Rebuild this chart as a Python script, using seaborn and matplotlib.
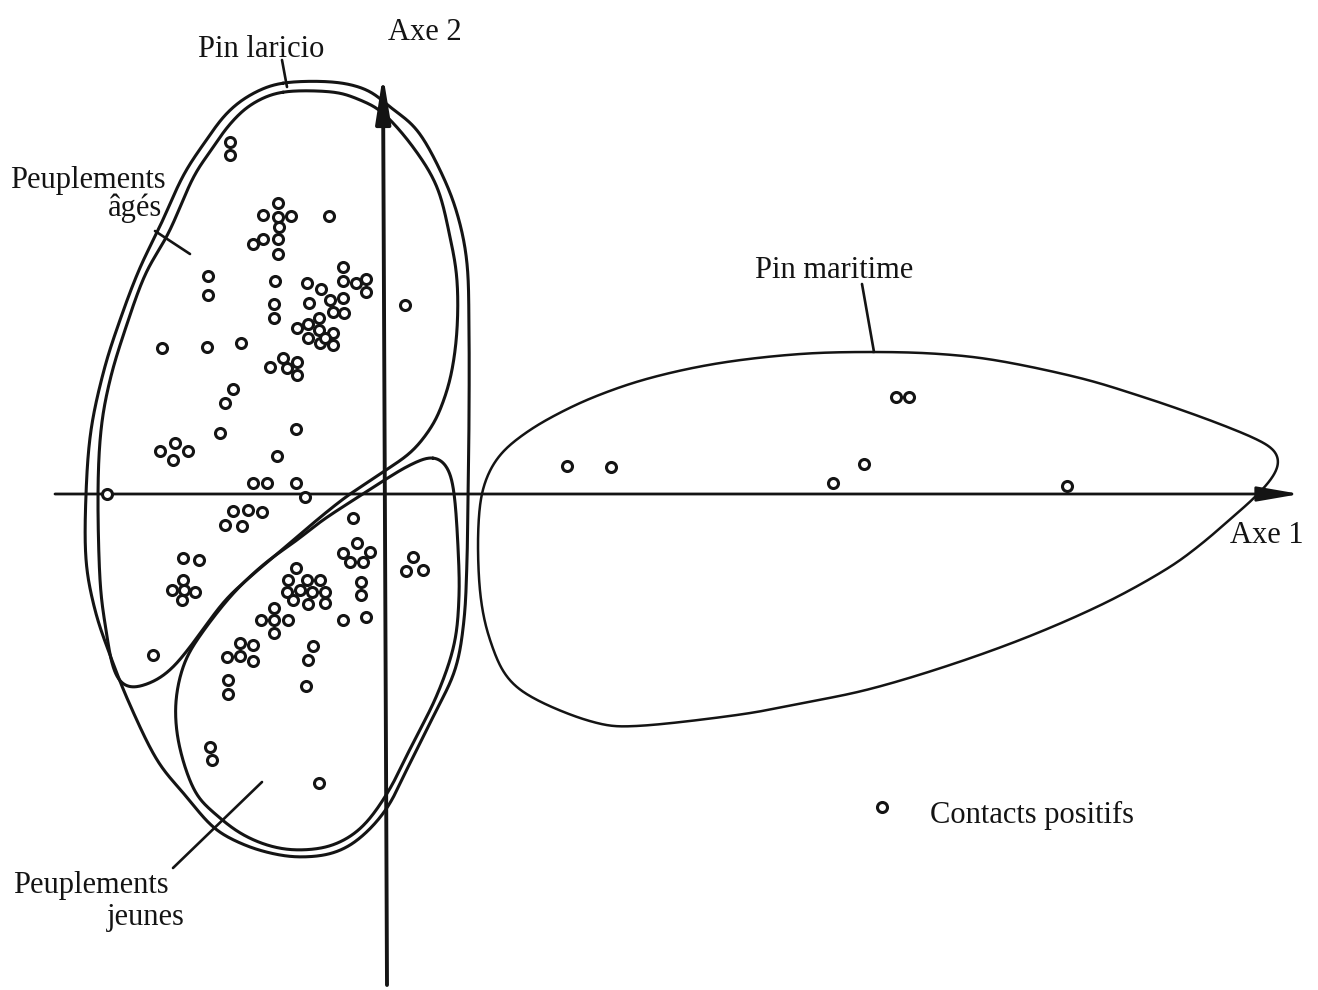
import numpy as np
import pandas as pd
import matplotlib
matplotlib.use("Agg")
import matplotlib.pyplot as plt
import seaborn as sns

# ---------------- data (axis units, origin at the crossing of Axe 1 / Axe 2) -------------
# positive contacts, Pin laricio stands
laricio_x = [-155, -155, -107, -122, -107, -94, -106, -132, -122, -107, -107, -56,
             -177, -177, -110, -111, -111, -78, -64, -42, -42, -29, -19, -19,
             -76, -55, -42, -52, -41, -66, -88, -77, -66, -77, -65, -52, -52, -60,
             20, -223, -178, -144, -115, -102, -88, -98, -88,
             -152, -160, -165, -89, -210, -225, -197, -212, -108, -132, -118, -89, -80,
             -278, -152, -137, -123, -160, -143, -32,
             -202, -186, -202, -213, -190, -203, -201, -232,
             -28, -42, -15, -35, -22, -24, -24, -42, -19, 28, 21, 38,
             -89, -97, -78, -65, -98, -85, -73, -60, -92, -77, -60,
             -111, -124, -111, -97, -111, -145, -132, -158, -145, -132, -72, -77,
             -157, -157, -79, -175, -173, -66]
laricio_y = [352, 339, 291, 279, 277, 278, 267, 250, 255, 255, 240, 278,
             218, 199, 213, 190, 176, 211, 205, 227, 213, 211, 215, 202,
             191, 194, 196, 182, 181, 176, 166, 170, 164, 156, 151, 161, 149, 156,
             189, 146, 147, 151, 127, 136, 132, 126, 119,
             105, 91, 61, 65, 51, 43, 43, 34, 38, 11, 11, 11, -3,
             0, -17, -16, -18, -31, -32, -24,
             -64, -66, -86, -96, -98, -106, -96, -161,
             -49, -59, -58, -68, -68, -88, -101, -126, -123, -63, -77, -76,
             -74, -86, -86, -86, -98, -96, -98, -98, -106, -110, -109,
             -114, -126, -126, -126, -139, -149, -151, -163, -162, -167, -152, -166,
             -186, -200, -192, -253, -266, -289]

# positive contacts, Pin maritime stands
maritime_x = [182, 226, 448, 479, 511, 524, 682]
maritime_y = [28, 27, 11, 30, 97, 97, 8]

# envelope outlines (vertices, smoothed when drawn)
env_laricio_x = [-102, -52, -18, 5, 32, 55, 72, 82, 84, 84, 83, 82, 79, 70, 48, 25, 2, -25,
                 -52, -85, -115, -145, -172, -200, -228, -255, -275, -290, -299, -299,
                 -294, -281, -265, -246, -224, -202, -180, -158, -133]
env_laricio_y = [411, 412, 404, 387, 364, 324, 281, 231, 164, 74, 0, -66, -126, -176, -223,
                 -269, -314, -344, -359, -363, -359, -349, -333, -301, -266, -211, -161,
                 -116, -66, 0, 64, 124, 174, 224, 270, 318, 352, 381, 400]

env_ages_x = [-102, -52, -25, -2, 28, 52, 65, 72, 72, 66, 55, 43, 25, -2, -35, -62, -95,
              -135, -162, -195, -215, -235, -258, -271, -279, -285, -287, -284, -275,
              -260, -240, -216, -192, -173, -155, -133]
env_ages_y = [402, 402, 394, 381, 347, 307, 257, 214, 164, 119, 84, 62, 41, 22, 0, -21, -49,
              -83, -109, -153, -176, -189, -193, -176, -136, -86, 0, 64, 114, 164, 219,
              262, 316, 345, 370, 390]

env_jeunes_x = [48, 62, 69, 73, 74, 69, 52, 27, 3, -23, -52, -85, -115, -145, -172, -188,
                -200, -208, -209, -202, -188, -155, -122, -88, -62, -30, -2, 25]
env_jeunes_y = [37, 27, 1, -53, -103, -151, -201, -251, -298, -333, -351, -356, -352, -339,
                -318, -301, -273, -239, -206, -173, -146, -103, -71, -46, -26, -5, 13, 29]

env_maritime_x = [488, 555, 615, 695, 755, 805, 845, 873, 889, 894, 887, 870, 850, 815, 780,
                  720, 645, 565, 485, 418, 352, 252, 208, 152, 122, 105, 96, 93, 95, 102,
                  115, 135, 165, 209, 265, 335, 415]
env_maritime_y = [142, 140, 133, 116, 98, 81, 66, 54, 44, 32, 16, -3, -21, -51, -76, -109,
                  -142, -171, -195, -209, -221, -232, -228, -206, -183, -146, -106, -56,
                  -11, 17, 39, 57, 76, 97, 116, 131, 140]

labels = ["Pin laricio", "Peuplements", "âgés", "Peuplements", "jeunes", "Pin maritime",
          "Axe 1", "Axe 2", "Contacts positifs"]


def smooth_closed(xs, ys, n=24, window=21):
    """Closed Catmull-Rom curve through the vertices, lightly smoothed along arc length."""
    P = np.column_stack([xs, ys]).astype(float)
    N = len(P)
    t = np.linspace(0, 1, n, endpoint=False)[:, None]
    segs = []
    for i in range(N):
        p0, p1, p2, p3 = P[(i - 1) % N], P[i], P[(i + 1) % N], P[(i + 2) % N]
        seg = 0.5 * (2 * p1 + (-p0 + p2) * t + (2 * p0 - 5 * p1 + 4 * p2 - p3) * t ** 2
                     + (-p0 + 3 * p1 - 3 * p2 + p3) * t ** 3)
        segs.append(seg)
    C = np.vstack(segs)
    CC = np.vstack([C, C[:1]])
    d = np.sqrt((np.diff(CC, axis=0) ** 2).sum(axis=1))
    s = np.concatenate([[0], np.cumsum(d)])
    L = s[-1]
    u = np.linspace(0, L, int(L), endpoint=False)
    rx = np.interp(u, s, CC[:, 0])
    ry = np.interp(u, s, CC[:, 1])
    k = np.ones(window) / window
    pad = window
    rx = np.convolve(np.concatenate([rx[-pad:], rx, rx[:pad]]), k, mode="same")[pad:-pad]
    ry = np.convolve(np.concatenate([ry[-pad:], ry, ry[:pad]]), k, mode="same")[pad:-pad]
    return np.append(rx, rx[0]), np.append(ry, ry[0])


# ---------------- drawing ----------------
sns.set_theme(style="white")
plt.rcParams["font.family"] = ["Liberation Serif", "DejaVu Serif"]

fig = plt.figure(figsize=(13.18, 9.9), dpi=100)
ax = fig.add_axes([0, 0, 1, 1])
ax.set_xlim(-385, 933)
ax.set_ylim(-496, 494)
ax.axis("off")

ink = "#141414"

# axes with arrows
ax.annotate("", xy=(915, 0), xytext=(-330, 0),
            arrowprops=dict(arrowstyle="-|>,head_length=2.6,head_width=0.45",
                            mutation_scale=10, color=ink, lw=2.0, shrinkA=0, shrinkB=0))
ax.annotate("", xy=(-2, 419), xytext=(2, -491),
            arrowprops=dict(arrowstyle="-|>,head_length=2.8,head_width=0.45",
                            mutation_scale=10, color=ink, lw=2.8, shrinkA=0, shrinkB=0))

# envelopes
for ex, ey, lw in [(env_laricio_x, env_laricio_y, 2.2),
                   (env_ages_x, env_ages_y, 2.2),
                   (env_jeunes_x, env_jeunes_y, 2.2),
                   (env_maritime_x, env_maritime_y, 1.8)]:
    sx, sy = smooth_closed(ex, ey)
    ax.plot(sx, sy, color=ink, lw=lw, solid_joinstyle="round", zorder=2)

# points
df = pd.DataFrame({
    "x": laricio_x + maritime_x,
    "y": laricio_y + maritime_y,
})
sns.scatterplot(data=df, x="x", y="y", ax=ax, marker="o", s=52,
                facecolor="white", edgecolor=ink, linewidth=2.2, zorder=4, legend=False)

# leader lines
for (x0, y0), (x1, y1) in [((-103, 434), (-98, 407)),
                           ((-230, 263), (-195, 240)),
                           ((-212, -374), (-123, -288)),
                           ((477, 210), (489, 142))]:
    ax.plot([x0, x1], [y0, y1], color=ink, lw=1.9, zorder=3)

fs = 22
tk = dict(color=ink, fontsize=fs, va="baseline")
ax.text(-187, 437, labels[0], ha="left", **tk)
ax.text(3, 454, labels[7], ha="left", **tk)
ax.text(-375, 306, labels[1], ha="left", **tk)
ax.text(-223, 278, labels[2], ha="right", **tk)
ax.text(-372, -399, labels[3], ha="left", **tk)
ax.text(-278, -431, labels[4], ha="left", **tk)
ax.text(370, 216, labels[5], ha="left", **tk)
ax.text(845, -49, labels[6], ha="left", **tk)

# legend
ax.scatter([497], [-313], s=52, facecolor="white", edgecolor=ink, linewidth=2.2, zorder=4)
ax.text(545, -329, labels[8], ha="left", **tk)

fig.savefig("out.png", dpi=100, facecolor="white")
